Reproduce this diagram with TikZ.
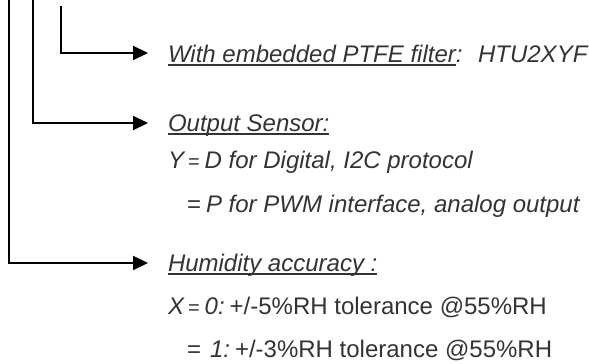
\documentclass[tikz,border=0pt]{standalone}
\usepackage{fontspec}
\setmainfont{Liberation Sans}
\usetikzlibrary{arrows.meta}
\newcommand{\undl}[1]{\setbox0\hbox{#1}\rlap{\rule[-3.8pt]{\wd0}{1.5pt}}\box0}
\newcommand{\eqsmall}{\hspace{4pt}{\fontsize{20pt}{20pt}\selectfont\upshape=}\hspace{5pt}}
\newcommand{\eqbig}{{\upshape=}\hspace{5pt}}

\begin{document}
\begin{tikzpicture}[x=1pt,y=-1pt,line cap=rect,
	txt/.style={inner sep=0, outer sep=0, anchor=base west, custcol_33_33_33, font=\fontsize{24pt}{24pt}\selectfont\itshape},
	lead/.style={line width=2.2pt, custcol_0_0_0, -{Triangle[length=15pt,width=14pt]}}]
					\definecolor{custcol_0_0_0}{RGB}{0, 0, 0}
					\definecolor{custcol_33_33_33}{RGB}{51, 51, 51}
					\useasboundingbox (0.0,0.0) rectangle (589.0,364.0);
					\coordinate (top1) at (9.0,0.0);
					\coordinate (top2) at (33.0,0.0);
					\coordinate (top3) at (61.0,7.0);
					\node[txt] (filt) at (168.0,62.0) {\undl{With embedded PTFE filter}: \ HTU2XYF};
					\node[txt] (outp) at (168.0,131.0) {\undl{Output Sensor:}};
					\node[txt] (ydig) at (168.0,168.0) {Y\eqsmall D for Digital, I2C protocol};
					\node[txt] (ypwm) at (187.0,212.0) {\eqbig P for PWM interface, analog output};
					\node[txt] (hum) at (168.0,271.0) {\undl{Humidity accuracy :}};
					\node[txt] (xfive) at (168.0,314.0) {X\eqsmall 0:\hspace{5pt}\upshape+/-5\%RH tolerance @55\%RH};
					\node[txt] (xthree) at (187.0,357.0) {\eqbig\hspace{4pt}1:\hspace{5pt}\upshape+/-3\%RH tolerance @55\%RH};
					\draw[lead] (top3) |- ([xshift=-20pt,yshift=9pt]filt.base west);
					\draw[lead] (top2) |- ([xshift=-20pt,yshift=8pt]outp.base west);
					\draw[lead] (top1) |- ([xshift=-20pt,yshift=8pt]hum.base west);
				\end{tikzpicture}
\end{document}
